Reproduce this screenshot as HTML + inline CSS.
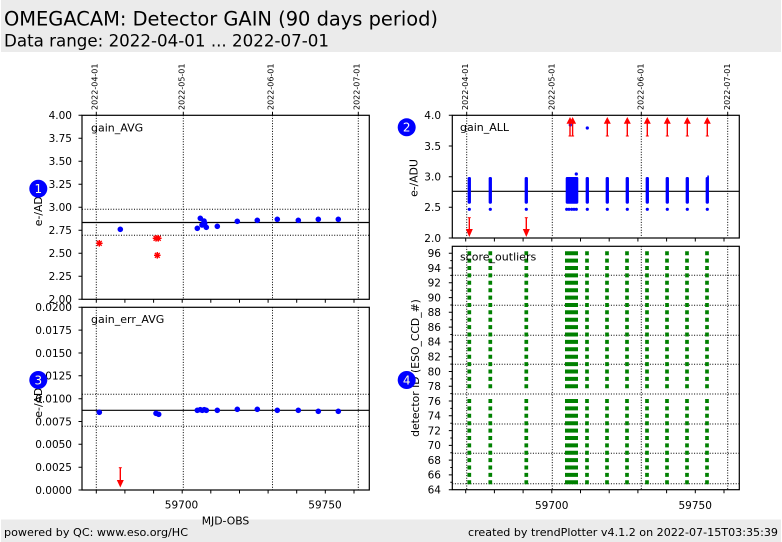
<!DOCTYPE html>
<html><head><meta charset="utf-8"><style>
body{margin:0;background:#fff}
svg{display:block}
text{font-family:"DejaVu Sans","Liberation Sans",sans-serif;fill:#000}
.mono{font-family:"DejaVu Sans Mono","Liberation Mono",monospace}
.tk{font-size:10.5px}
</style></head><body>
<svg width="782" height="542" viewBox="0 0 782 542" xmlns="http://www.w3.org/2000/svg" xmlns:xlink="http://www.w3.org/1999/xlink">
<defs>
<path id="gc" d="M0 480.3h1v4h-1zM0 472.9h1v4h-1zM0 465.5h1v4h-1zM0 458.1h1v4h-1zM0 450.8h1v4h-1zM0 443.4h1v4h-1zM0 436h1v4h-1zM0 428.6h1v4h-1zM0 421.2h1v4h-1zM0 413.8h1v4h-1zM0 406.4h1v4h-1zM0 399h1v4h-1zM0 384.2h1v4h-1zM0 376.9h1v4h-1zM0 369.5h1v4h-1zM0 362.1h1v4h-1zM0 354.7h1v4h-1zM0 347.3h1v4h-1zM0 339.9h1v4h-1zM0 332.5h1v4h-1zM0 325.1h1v4h-1zM0 317.7h1v4h-1zM0 310.3h1v4h-1zM0 303h1v4h-1zM0 295.6h1v4h-1zM0 288.2h1v4h-1zM0 280.8h1v4h-1zM0 273.4h1v4h-1zM0 266h1v4h-1zM0 258.6h1v4h-1zM0 251.2h1v4h-1z" fill="#008000"/>
<g id="bc"><rect x="-1.65" y="177" width="3.3" height="26.7" rx="1.4" fill="#0000ff"/><circle cx="0" cy="209.3" r="1.6" fill="#0000ff"/></g>
<g id="ua" stroke="#ff0000" fill="#ff0000"><line x1="0" y1="136" x2="0" y2="122" stroke-width="1.4"/><line x1="-1.5" y1="136" x2="1.5" y2="136" stroke-width="1"/><polygon points="-3.5,123.7 3.5,123.7 0,117" stroke="none"/></g>
<g id="da" stroke="#ff0000" fill="#ff0000"><line x1="0" y1="217.7" x2="0" y2="230" stroke-width="1.4"/><line x1="-1.5" y1="217.7" x2="1.5" y2="217.7" stroke-width="1"/><polygon points="-3.5,229 3.5,229 0,237" stroke="none"/></g>
<g id="st" stroke="#ff0000" stroke-width="1.4"><line x1="-3.3" y1="0" x2="3.3" y2="0"/><line x1="0" y1="-3.3" x2="0" y2="3.3"/><line x1="-2.4" y1="-2.4" x2="2.4" y2="2.4"/><line x1="-2.4" y1="2.4" x2="2.4" y2="-2.4"/></g>
</defs>

<!-- header -->
<rect x="1" y="0" width="780" height="52" fill="#ebebeb"/>
<text x="4" y="25.5" font-size="19.4" textLength="434" lengthAdjust="spacingAndGlyphs">OMEGACAM: Detector GAIN (90 days period)</text>
<text x="4" y="46.5" font-size="16.5" textLength="325" lengthAdjust="spacingAndGlyphs">Data range: 2022-04-01 ... 2022-07-01</text>

<!-- footer -->
<rect x="1" y="519.5" width="780" height="22.5" fill="#ebebeb"/>
<text x="4" y="536" font-size="11" textLength="184" lengthAdjust="spacingAndGlyphs">powered by QC: www.eso.org/HC</text>
<text x="468" y="536" font-size="11" textLength="310" lengthAdjust="spacingAndGlyphs">created by trendPlotter v4.1.2 on 2022-07-15T03:35:39</text>

<!-- date labels -->
<g class="mono" font-size="7.7">
<text transform="translate(97.5,110) rotate(-90)" textLength="46.5" lengthAdjust="spacingAndGlyphs">2022-04-01</text>
<text transform="translate(184.3,110) rotate(-90)" textLength="46.5" lengthAdjust="spacingAndGlyphs">2022-05-01</text>
<text transform="translate(273.3,110) rotate(-90)" textLength="46.5" lengthAdjust="spacingAndGlyphs">2022-06-01</text>
<text transform="translate(359.5,110) rotate(-90)" textLength="46.5" lengthAdjust="spacingAndGlyphs">2022-07-01</text>
<text transform="translate(467.8,110) rotate(-90)" textLength="46.5" lengthAdjust="spacingAndGlyphs">2022-04-01</text>
<text transform="translate(554.3,110) rotate(-90)" textLength="46.5" lengthAdjust="spacingAndGlyphs">2022-05-01</text>
<text transform="translate(643.3,110) rotate(-90)" textLength="46.5" lengthAdjust="spacingAndGlyphs">2022-06-01</text>
<text transform="translate(730,110) rotate(-90)" textLength="46.5" lengthAdjust="spacingAndGlyphs">2022-07-01</text>
</g>

<!-- ===== LEFT TOP: gain_AVG ===== -->
<g stroke="#000" stroke-width="1" stroke-dasharray="1,1.6" fill="none">
<line x1="96.3" y1="115.3" x2="96.3" y2="299.3"/><line x1="183.3" y1="115.3" x2="183.3" y2="299.3"/><line x1="272.5" y1="115.3" x2="272.5" y2="299.3"/><line x1="358.3" y1="115.3" x2="358.3" y2="299.3"/>
<line x1="82" y1="209.3" x2="369.3" y2="209.3"/><line x1="82" y1="235.3" x2="369.3" y2="235.3"/>
<line x1="96.3" y1="307.3" x2="96.3" y2="490"/><line x1="183.3" y1="307.3" x2="183.3" y2="490"/><line x1="272.5" y1="307.3" x2="272.5" y2="490"/><line x1="358.3" y1="307.3" x2="358.3" y2="490"/>
<line x1="82" y1="394.3" x2="369.3" y2="394.3"/><line x1="82" y1="426.3" x2="369.3" y2="426.3"/>
<line x1="466.7" y1="115.3" x2="466.7" y2="238"/><line x1="552.3" y1="115.3" x2="552.3" y2="238"/><line x1="641.3" y1="115.3" x2="641.3" y2="238"/><line x1="727.7" y1="115.3" x2="727.7" y2="238"/>
<line x1="466.7" y1="246.3" x2="466.7" y2="489.7"/><line x1="552.3" y1="246.3" x2="552.3" y2="489.7"/><line x1="641.3" y1="246.3" x2="641.3" y2="489.7"/><line x1="727.7" y1="246.3" x2="727.7" y2="489.7"/>
<line x1="452.3" y1="483.7" x2="739.3" y2="483.7"/><line x1="452.3" y1="453.3" x2="739.3" y2="453.3"/><line x1="452.3" y1="424" x2="739.3" y2="424"/><line x1="452.3" y1="394" x2="739.3" y2="394"/><line x1="452.3" y1="364.3" x2="739.3" y2="364.3"/><line x1="452.3" y1="335.3" x2="739.3" y2="335.3"/><line x1="452.3" y1="305.3" x2="739.3" y2="305.3"/><line x1="452.3" y1="275.3" x2="739.3" y2="275.3"/>
</g>

<line x1="82" y1="222.5" x2="369.3" y2="222.5" stroke="#000" stroke-width="1.2"/>
<line x1="82" y1="410.3" x2="369.3" y2="410.3" stroke="#000" stroke-width="1.2"/>
<line x1="452.3" y1="191.3" x2="739.3" y2="191.3" stroke="#000" stroke-width="1.2"/>

<!-- gain_AVG points -->
<g fill="#0000ff">
<circle cx="120.3" cy="229.3" r="2.8"/><circle cx="197.3" cy="228.3" r="2.8"/><circle cx="200.3" cy="218.3" r="2.8"/><circle cx="202" cy="225" r="2.8"/><circle cx="204" cy="221" r="2.8"/><circle cx="204.7" cy="223.3" r="2.8"/><circle cx="206.3" cy="227.3" r="2.8"/><circle cx="217.3" cy="226.3" r="2.8"/><circle cx="237.3" cy="221.3" r="2.8"/><circle cx="257.3" cy="220.3" r="2.8"/><circle cx="277.3" cy="219.3" r="2.8"/><circle cx="298.3" cy="220.3" r="2.8"/><circle cx="318.3" cy="219.3" r="2.8"/><circle cx="338.3" cy="219.3" r="2.8"/>
</g>
<use xlink:href="#st" transform="translate(99.3,243.3)"/>
<use xlink:href="#st" transform="translate(156,238.3)"/>
<use xlink:href="#st" transform="translate(158.3,238.3)"/>
<use xlink:href="#st" transform="translate(157.3,255.3)"/>

<!-- gain_err_AVG points -->
<g fill="#0000ff">
<circle cx="99.3" cy="412.3" r="2.8"/><circle cx="156" cy="413.3" r="2.8"/><circle cx="158.7" cy="414.3" r="2.8"/><circle cx="197.3" cy="410.3" r="2.8"/><circle cx="200.3" cy="409.7" r="2.8"/><circle cx="202.3" cy="410.3" r="2.8"/><circle cx="204.3" cy="409.7" r="2.8"/><circle cx="206.3" cy="410.3" r="2.8"/><circle cx="217.3" cy="410.3" r="2.8"/><circle cx="237.3" cy="409.3" r="2.8"/><circle cx="257.3" cy="409.3" r="2.8"/><circle cx="277.3" cy="410.3" r="2.8"/><circle cx="298.3" cy="410.3" r="2.8"/><circle cx="318.3" cy="411.3" r="2.8"/><circle cx="338.3" cy="411.3" r="2.8"/>
</g>
<g stroke="#ff0000" fill="#ff0000"><line x1="120.3" y1="467.7" x2="120.3" y2="481" stroke-width="1.4"/><line x1="118.8" y1="467.7" x2="121.8" y2="467.7" stroke-width="1"/><polygon points="116.8,480 123.8,480 120.3,487.5" stroke="none"/></g>

<!-- gain_ALL -->
<use xlink:href="#bc" x="469.3"/><use xlink:href="#bc" x="490.3"/><use xlink:href="#bc" x="526.3"/><use xlink:href="#bc" x="587.3"/><use xlink:href="#bc" x="607.3"/><use xlink:href="#bc" x="627.3"/><use xlink:href="#bc" x="647.3"/><use xlink:href="#bc" x="667.3"/><use xlink:href="#bc" x="687.3"/><use xlink:href="#bc" x="707.3"/>
<g fill="#0000ff">
<rect x="707.3" y="175.5" width="1.6" height="4"/>
<rect x="565.7" y="177" width="12.6" height="26.7" rx="1.2"/>
<circle cx="566.7" cy="209.3" r="1.6"/><circle cx="569" cy="209.3" r="1.6"/><circle cx="571.7" cy="209.3" r="1.6"/><circle cx="574" cy="209.3" r="1.6"/><circle cx="576.3" cy="209.3" r="1.6"/>
<circle cx="576.3" cy="174" r="1.6"/><circle cx="587.3" cy="128" r="1.6"/><circle cx="570.3" cy="125" r="1.6"/>
</g>
<use xlink:href="#ua" x="570"/><use xlink:href="#ua" x="572.6"/><use xlink:href="#ua" x="607.3"/><use xlink:href="#ua" x="627.3"/><use xlink:href="#ua" x="647.3"/><use xlink:href="#ua" x="667.3"/><use xlink:href="#ua" x="687.3"/><use xlink:href="#ua" x="707.3"/>
<use xlink:href="#da" x="469.3"/><use xlink:href="#da" x="526.3"/>

<!-- score_outliers -->
<use xlink:href="#gc" transform="translate(467.45,0) scale(3.7,1)"/>
<use xlink:href="#gc" transform="translate(488.45,0) scale(3.7,1)"/>
<use xlink:href="#gc" transform="translate(524.45,0) scale(3.7,1)"/>
<use xlink:href="#gc" transform="translate(565,0) scale(13,1)"/>
<use xlink:href="#gc" transform="translate(585.15,0) scale(3.7,1)"/>
<use xlink:href="#gc" transform="translate(605.15,0) scale(3.7,1)"/>
<use xlink:href="#gc" transform="translate(625.15,0) scale(3.7,1)"/>
<use xlink:href="#gc" transform="translate(645.15,0) scale(3.7,1)"/>
<use xlink:href="#gc" transform="translate(665.15,0) scale(3.7,1)"/>
<use xlink:href="#gc" transform="translate(685.15,0) scale(3.7,1)"/>
<use xlink:href="#gc" transform="translate(705.15,0) scale(3.7,1)"/>

<!-- axes boxes -->
<g fill="none" stroke="#000" stroke-width="1.2">
<rect x="82" y="115.3" width="287.3" height="184"/>
<rect x="82" y="307.3" width="287.3" height="182.7"/>
<rect x="452.3" y="115.3" width="287" height="122.7"/>
<rect x="452.3" y="246.3" width="287" height="243.4"/>
</g>

<!-- ticks -->
<g stroke="#000" stroke-width="1">
<!-- left top y -->
<path d="M78.5 115.3H82M78.5 138.3H82M78.5 161.3H82M78.5 184.3H82M78.5 207.3H82M78.5 230.3H82M78.5 253.3H82M78.5 276.3H82M78.5 299.3H82"/>
<!-- left bottom y -->
<path d="M78.5 307.3H82M78.5 330.1H82M78.5 353H82M78.5 375.8H82M78.5 398.7H82M78.5 421.5H82M78.5 444.3H82M78.5 467.2H82M78.5 490H82"/>
<!-- right top y -->
<path d="M448.8 115.3H452.3M448.8 146H452.3M448.8 176.7H452.3M448.8 207.3H452.3M448.8 238H452.3"/>
<!-- right bottom y major -->
<path d="M448.8 489.7H452.3M448.8 474.9H452.3M448.8 460.1H452.3M448.8 445.4H452.3M448.8 430.6H452.3M448.8 415.8H452.3M448.8 401H452.3M448.8 386.2H452.3M448.8 371.5H452.3M448.8 356.7H452.3M448.8 341.9H452.3M448.8 327.1H452.3M448.8 312.3H452.3M448.8 297.6H452.3M448.8 282.8H452.3M448.8 268H452.3M448.8 253.2H452.3"/>
<!-- right bottom y minor -->
<path d="M450.3 482.3H452.3M450.3 467.5H452.3M450.3 452.8H452.3M450.3 438H452.3M450.3 423.2H452.3M450.3 408.4H452.3M450.3 393.6H452.3M450.3 378.9H452.3M450.3 364.1H452.3M450.3 349.3H452.3M450.3 334.5H452.3M450.3 319.7H452.3M450.3 305H452.3M450.3 290.2H452.3M450.3 275.4H452.3M450.3 260.6H452.3"/>
<!-- left x ticks -->
<path d="M96.3 299.3v3.5M124.9 299.3v3.5M153.6 299.3v3.5M182.2 299.3v3.5M210.8 299.3v3.5M239.5 299.3v3.5M268.1 299.3v3.5M296.7 299.3v3.5M325.3 299.3v3.5M354 299.3v3.5"/>
<path d="M96.3 490v3.5M124.9 490v3.5M153.6 490v3.5M182.2 490v3.5M210.8 490v3.5M239.5 490v3.5M268.1 490v3.5M296.7 490v3.5M325.3 490v3.5M354 490v3.5"/>
<!-- right x ticks -->
<path d="M465.7 238v3.5M494.4 238v3.5M523.1 238v3.5M551.8 238v3.5M580.5 238v3.5M609.2 238v3.5M637.9 238v3.5M666.6 238v3.5M695.3 238v3.5M724 238v3.5"/>
<path d="M465.7 489.7v3.5M494.4 489.7v3.5M523.1 489.7v3.5M551.8 489.7v3.5M580.5 489.7v3.5M609.2 489.7v3.5M637.9 489.7v3.5M666.6 489.7v3.5M695.3 489.7v3.5M724 489.7v3.5"/>
<!-- top date ticks -->
<path d="M96.3 115.3v-3.5M183.3 115.3v-3.5M272.5 115.3v-3.5M358.3 115.3v-3.5M466.7 115.3v-3.5M552.3 115.3v-3.5M641.3 115.3v-3.5M727.7 115.3v-3.5"/>
</g>

<!-- tick labels -->
<g class="tk" text-anchor="end">
<text x="72" y="119.1">4.00</text><text x="72" y="142.1">3.75</text><text x="72" y="165.1">3.50</text><text x="72" y="188.1">3.25</text><text x="72" y="211.1">3.00</text><text x="72" y="234.1">2.75</text><text x="72" y="257.1">2.50</text><text x="72" y="280.1">2.25</text><text x="72" y="303.1">2.00</text>
<text x="72" y="311.1">0.0200</text><text x="72" y="333.9">0.0175</text><text x="72" y="356.8">0.0150</text><text x="72" y="379.6">0.0125</text><text x="72" y="402.5">0.0100</text><text x="72" y="425.3">0.0075</text><text x="72" y="448.1">0.0050</text><text x="72" y="471">0.0025</text><text x="72" y="493.8">0.0000</text>
<text x="441" y="119.1">4.0</text><text x="441" y="149.8">3.5</text><text x="441" y="180.5">3.0</text><text x="441" y="211.1">2.5</text><text x="441" y="241.8">2.0</text>
<text x="441" y="493.5">64</text><text x="441" y="478.7">66</text><text x="441" y="463.9">68</text><text x="441" y="449.2">70</text><text x="441" y="434.4">72</text><text x="441" y="419.6">74</text><text x="441" y="404.8">76</text><text x="441" y="390">78</text><text x="441" y="375.3">80</text><text x="441" y="360.5">82</text><text x="441" y="345.7">84</text><text x="441" y="330.9">86</text><text x="441" y="316.1">88</text><text x="441" y="301.4">90</text><text x="441" y="286.6">92</text><text x="441" y="271.8">94</text><text x="441" y="257">96</text>
</g>
<g class="tk" text-anchor="middle">
<text x="181.5" y="508.3">59700</text><text x="325" y="508.3">59750</text>
<text x="551.7" y="508.8">59700</text><text x="695.2" y="508.8">59750</text>
</g>
<text x="225.5" y="524.3" font-size="10.8" text-anchor="middle">MJD-OBS</text>

<!-- panel labels -->
<g font-size="11">
<text x="91" y="131.3">gain_AVG</text>
<text x="91" y="322.8">gain_err_AVG</text>
<text x="460" y="131">gain_ALL</text>
<text x="460" y="260.7">score_outliers</text>
</g>

<!-- y axis labels -->
<g font-size="10.8" text-anchor="middle">
<text transform="translate(42,207.3) rotate(-90)">e-/ADU</text>
<text transform="translate(42,398.7) rotate(-90)">e-/ADU</text>
<text transform="translate(417.5,178) rotate(-90)">e-/ADU</text>
<text transform="translate(419,368) rotate(-90)">detector ID (ESO_CCD_#)</text>
</g>

<!-- badges -->
<g fill="#0000ff">
<circle cx="38.3" cy="188.7" r="9"/><circle cx="406.7" cy="127.3" r="9"/><circle cx="38.3" cy="380" r="9"/><circle cx="406.7" cy="380" r="9"/>
</g>
<g font-size="12" text-anchor="middle" style="fill:#fff">
<text x="38.3" y="193" style="fill:#ffffe0">1</text><text x="406.7" y="131.6" style="fill:#fff">2</text><text x="38.3" y="384.3" style="fill:#ffffe0">3</text><text x="406.7" y="384.3" style="fill:#ffffe0">4</text>
</g>
</svg>
</body></html>
